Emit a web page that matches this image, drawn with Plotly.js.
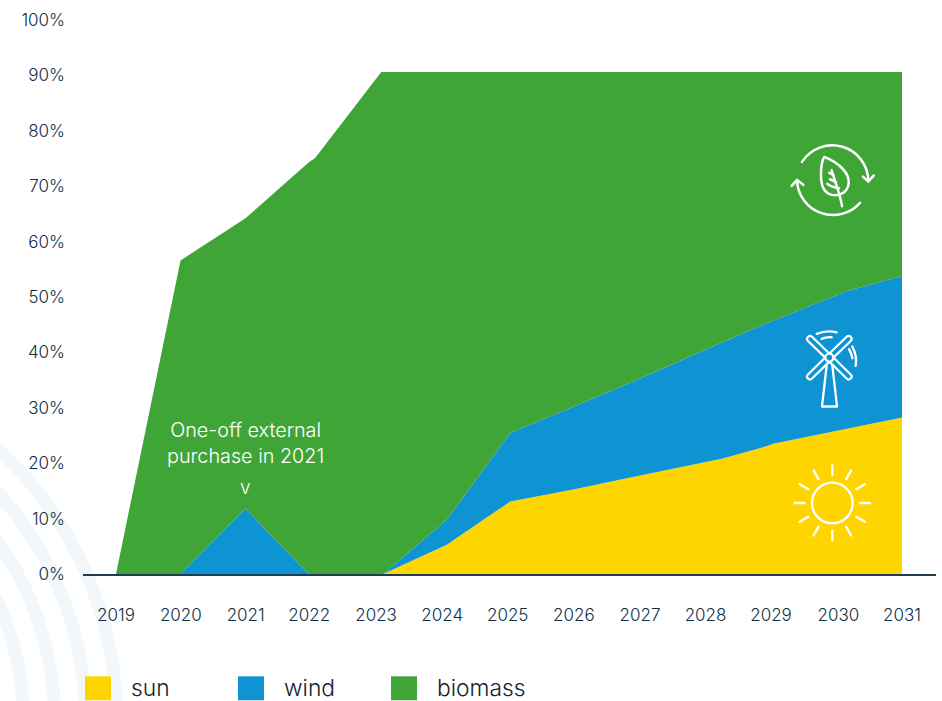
<!DOCTYPE html>
<html>
<head>
<meta charset="utf-8">
<script src="https://cdn.plot.ly/plotly-3.0.1.min.js"></script>
<style>html,body{margin:0;padding:0;background:#fff}#chart{width:942px;height:701px}</style>
</head>
<body>
<div id="chart"></div>
<script>
// Sampling positions (the source chart's kinks sit slightly off the year ticks)
var years = [2019, 2019.985, 2020.977, 2021.94, 2022.04, 2023.05, 2023.08, 2024.05, 2025.02, 2026, 2027, 2028.25, 2028.94, 2029.03, 2030.16, 2031];
var sun     = [0, 0, 0, 0, 0, 0, 0, 5.3, 13.1, 15.3, 17.8, 20.8, 23.1, 23.5, 26.2, 28.25];
var wind    = [0, 0, 11.8, 0, 0, 0, 0, 4.5, 12.4, 15.0, 17.5, 21.0, 22.2, 22.2, 24.9, 25.55];
var biomass = [0, 56.6, 52.4, 74.3, 75.1, 90.6, 90.6, 80.8, 65.1, 60.3, 55.3, 48.8, 45.3, 44.9, 39.5, 36.8];
var seriesNames = ['sun', 'wind', 'biomass'];
var seriesColors = ['#FFD500', '#0E93D3', '#40A537'];
var tickPlaces = [2019, 2019.99, 2020.98, 2021.95, 2022.97, 2023.98, 2024.98, 2025.99, 2027, 2028, 2029, 2030.03, 2031];
var tickYears = ['2019', '2020', '2021', '2022', '2023', '2024', '2025', '2026', '2027', '2028', '2029', '2030', '2031'];
var percentTicks = [0, 10, 20, 30, 40, 50, 60, 70, 80, 90, 100];
var noteLines = 'One-off external<br>purchase in 2021';

var FONT = 'Inter, Lato, sans-serif';
var INK = '#0F2E45';
var W = 942, H = 701, L = 83, R = 936, T = 19.5, B = 574.5;
function px(x) { return (x - L) / (R - L); }
function py(y) { return (B - y) / (B - T); }

function svgUri(vw, vh, body) {
  return 'data:image/svg+xml;charset=utf-8,' + encodeURIComponent(
    '<svg xmlns="http://www.w3.org/2000/svg" width="' + vw + '" height="' + vh + '" viewBox="0 0 ' + vw + ' ' + vh + '">' + body + '</svg>');
}
function icon(x, y, w, h, vw, vh, body) {
  return { source: svgUri(vw, vh, body), xref: 'paper', yref: 'paper', x: px(x), y: py(y),
    sizex: w / (R - L), sizey: h / (B - T), xanchor: 'left', yanchor: 'top', sizing: 'stretch', layer: 'above' };
}

var rays = '';
for (var i = 0; i < 12; i++) {
  rays += '<line x1="157" y1="32" x2="157" y2="62" transform="rotate(' + (i * 30) + ' 157 145)"/>';
}
var sunSvg = '<g fill="none" stroke="#fff" stroke-width="7" stroke-linecap="round"><circle cx="157" cy="145" r="61"/>' + rays + '</g>';

var leafSvg = '<g fill="none" stroke="#fff" stroke-width="7.5" stroke-linecap="round" stroke-linejoin="round">' +
  '<path d="M96 95 A108 108 0 0 1 295 153"/><path d="M279 139 L295 154 L311 136"/>' +
  '<path d="M270 218 A108 108 0 0 1 81 150"/><path d="M65 167 L81 149 L100 164"/>' +
  '<path d="M163 80 C200 95 240 125 236 160 C232 190 205 198 185 194 C160 188 152 160 153 130 C153 105 157 90 163 80 Z"/>' +
  '<path d="M185 120 C195 155 210 190 216 228"/>' +
  '<path d="M178 128 L190 134"/><path d="M180 147 L198 156"/><path d="M172 161 C185 172 195 172 207 174"/>' +
  '</g>';

var blades = [[90, 57], [206, 57], [90, 170], [206, 170]];
var bladeA = '', bladeB = '';
blades.forEach(function (b) {
  var d = 'x1="148" y1="113" x2="' + b[0] + '" y2="' + b[1] + '"';
  bladeA += '<line ' + d + ' stroke="#fff" stroke-width="24" stroke-linecap="round"/>';
  bladeB += '<line ' + d + ' stroke="#0E93D3" stroke-width="11" stroke-linecap="round"/>';
});
var windSvg = '<path d="M126 260 L171 260 L156 128 L141 128 Z" fill="none" stroke="#fff" stroke-width="7" stroke-linejoin="round"/>' +
  bladeA + bladeB +
  '<circle cx="148" cy="113" r="12" fill="#0E93D3" stroke="#fff" stroke-width="7"/>' +
  '<g fill="none" stroke="#fff" stroke-width="7" stroke-linecap="round">' +
  '<path d="M110 42 Q140 30 170 37"/><path d="M125 57 Q140 50 155 52"/>' +
  '<path d="M217 80 Q232 108 227 138"/><path d="M207 88 Q215 100 217 115"/></g>';

var ringRadii = [375, 344, 313, 282];
var shapes = ringRadii.map(function (r) {
  return { type: 'circle', xref: 'paper', yref: 'paper', layer: 'below',
    x0: px(-252 - r + 6.5), x1: px(-252 + r - 6.5), y0: py(720 + r - 6.5), y1: py(720 - r + 6.5),
    line: { color: '#F1F7FB', width: 13 }, fillcolor: 'rgba(0,0,0,0)' };
});

var swatchX = [85, 238, 391];
var annotations = [
  { x: 2020.98, y: 23.6, xref: 'x', yref: 'y', text: noteLines, showarrow: false, align: 'center', xanchor: 'center', yanchor: 'middle',
    font: { family: FONT, size: 19.8, weight: 300, color: '#fff' } },
  { x: 2020.98, y: 15.7, xref: 'x', yref: 'y', text: 'v', showarrow: false, font: { family: FONT, size: 19, weight: 300, color: '#fff' } }
];
seriesNames.forEach(function (n, i) {
  shapes.push({ type: 'rect', xref: 'paper', yref: 'paper', layer: 'above', x0: px(swatchX[i]), x1: px(swatchX[i] + 26), y0: py(701), y1: py(677),
    line: { width: 0 }, fillcolor: seriesColors[i] });
  annotations.push({ xref: 'paper', yref: 'paper', x: px(swatchX[i] + 44), y: py(688.5), text: n, showarrow: false, xanchor: 'left', yanchor: 'middle',
    font: { family: FONT, size: 22.8, weight: 300, color: '#14222C' } });
});

var values = [sun, wind, biomass];
var traces = seriesNames.map(function (n, i) {
  return { type: 'scatter', mode: 'none', name: n, x: years, y: values[i], stackgroup: 'one',
    fill: i === 0 ? 'tozeroy' : 'tonexty', fillcolor: seriesColors[i], line: { width: 0 }, hoverinfo: 'x+y+name' };
});

var layout = {
  width: W, height: H, autosize: false, showlegend: false,
  paper_bgcolor: '#fff', plot_bgcolor: 'rgba(0,0,0,0)',
  margin: { l: L, r: W - R, t: T, b: H - B, pad: 0 },
  font: { family: FONT, color: INK },
  xaxis: { type: 'linear', range: [2019 - 33 / 65.5, 2031 + 34 / 65.5], tickmode: 'array', tickvals: tickPlaces, ticktext: tickYears,
    showgrid: false, zeroline: false, showline: true, linecolor: '#1F3D52', linewidth: 1.5, ticks: '', ticklabelstandoff: 25,
    tickfont: { family: FONT, size: 17, weight: 300, color: INK } },
  yaxis: { range: [0, 100], tickmode: 'array', tickvals: percentTicks, ticktext: percentTicks.map(function (v) { return v + '%'; }),
    showgrid: false, zeroline: false, showline: false, ticks: '', ticklabelstandoff: 17,
    tickfont: { family: FONT, size: 17, weight: 300, color: INK } },
  shapes: shapes,
  annotations: annotations,
  images: [
    icon(770, 130, 120, 140, 360, 420, leafSvg),
    icon(780, 320, 100, 100, 300, 300, windSvg),
    icon(780, 455, 100, 100, 300, 300, sunSvg)
  ]
};
Plotly.newPlot('chart', traces, layout, { displayModeBar: false, staticPlot: true });
</script>
</body>
</html>
